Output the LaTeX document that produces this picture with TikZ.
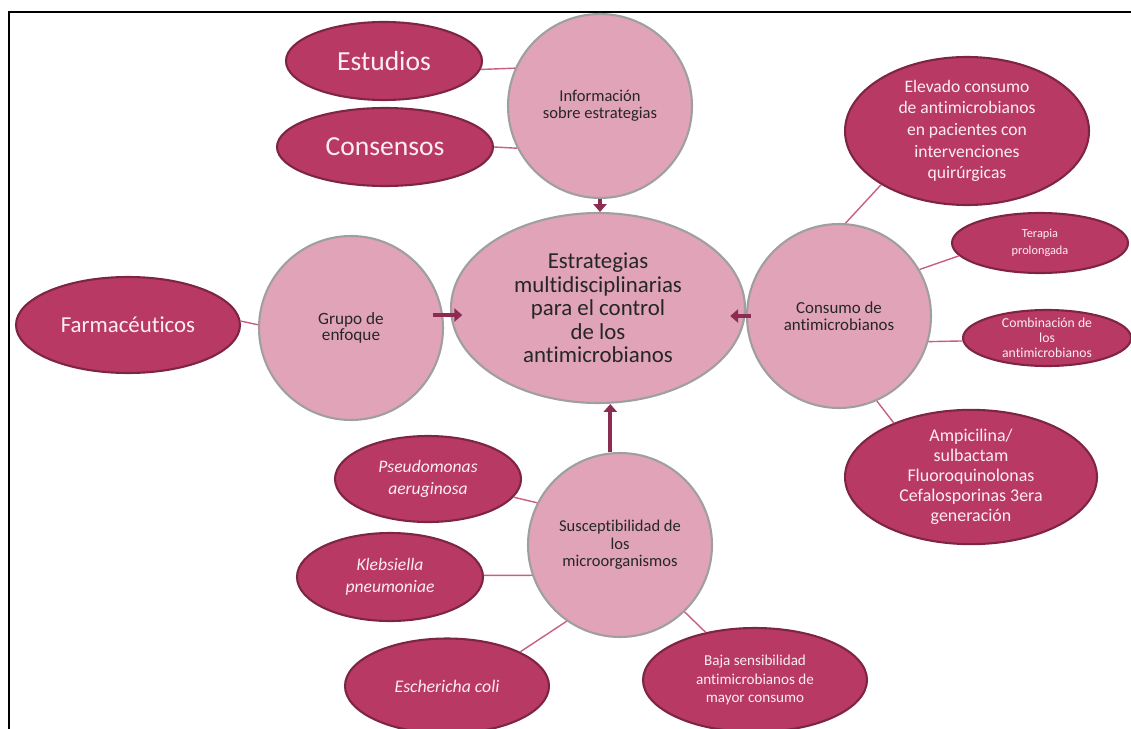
\documentclass[tikz,border=0pt]{standalone}
\usepackage{fontspec}
\setmainfont{Carlito}[Ligatures=NoCommon]
\usepackage{tikz}
\usetikzlibrary{shapes.geometric,arrows.meta}
\definecolor{darkrose}{HTML}{B83A64}
\definecolor{darkrim}{HTML}{7E2444}
\definecolor{lightrose}{HTML}{E0A3B8}
\definecolor{linkrose}{HTML}{C85E86}
\definecolor{arrowrose}{HTML}{8C2C50}
\definecolor{paletext}{HTML}{FCEDF2}

\begin{document}
\begin{tikzpicture}[x=0.02cm,y=-0.02cm,
    hub/.style={circle,minimum size=3.68cm,inner sep=0pt,fill=lightrose,draw=gray!75,line width=1.2pt,text=black!85,align=center},
    leaf/.style={ellipse,inner sep=0pt,fill=darkrose,draw=darkrim,line width=1.2pt,text=paletext,align=center},
    link/.style={linkrose,line width=0.8pt},
    feed/.style={arrowrose,line width=2.3pt,-{Triangle[width=7.5pt,length=4.5pt]}}]
    \useasboundingbox (0,0) rectangle (1131,729);
    % Frame
    \draw[line width=1.7pt] (8,12) -- (1131,12);
    \draw[line width=1.7pt] (9,12) -- (9,729);

    % Centre
    \node[hub,ellipse,minimum width=5.88cm,minimum height=3.8cm,font=\fontsize{13}{13.4}\selectfont] (strat) at (598,308)
        {Estrategias\\multidisciplinarias\\para el control\\de los\\antimicrobianos};

    % Top
    \node[hub,font=\fontsize{9.4}{9.6}\selectfont] (info) at (600,106) {Información\\sobre estrategias};
    \node[leaf,minimum width=3.92cm,minimum height=1.56cm,font=\fontsize{15.7}{16}\selectfont] (est) at (384,61) {Estudios};
    \node[leaf,minimum width=4.32cm,minimum height=1.56cm,font=\fontsize{15.7}{16}\selectfont] (cons) at (385,147) {Consensos};

    % Left
    \node[hub,font=\fontsize{9.8}{9.5}\selectfont] (grupo) at (351,328) {Grupo de\\enfoque};
    \node[leaf,minimum width=4.48cm,minimum height=1.92cm,font=\fontsize{13}{13}\selectfont] (farm) at (128,325) {Farmacéuticos};

    % Right
    \node[hub,font=\fontsize{9.6}{9.5}\selectfont] (consumo) at (839,316) {Consumo de\\antimicrobianos};
    \node[leaf,minimum width=4.88cm,minimum height=2.96cm,font=\fontsize{10}{12.3}\selectfont] (elev) at (967,131)
        {Elevado consumo\\de antimicrobianos\\en pacientes con\\intervenciones\\quirúrgicas};
    \node[leaf,minimum width=3.52cm,minimum height=1.2cm,font=\fontsize{7}{9.5}\selectfont] (terapia) at (1040,243) {Terapia\\prolongada};
    \node[leaf,minimum width=3.36cm,minimum height=1.12cm,font=\fontsize{7.8}{8.5}\selectfont] (comb) at (1047,338) {Combinación de\\los\\antimicrobianos};
    \node[leaf,minimum width=5.04cm,minimum height=2.6cm,font=\fontsize{10.2}{11.3}\selectfont] (ampi) at (971,477)
        {Ampicilina/\\sulbactam\\Fluoroquinolonas\\Cefalosporinas 3era\\generación};

    % Bottom
    \node[hub,font=\fontsize{9.4}{9.9}\selectfont] (susc) at (620,545) {Susceptibilidad de\\los\\microorganismos};
    \node[leaf,minimum width=3.72cm,minimum height=1.72cm,font=\fontsize{10}{12.3}\itshape] (pseudo) at (428,479) {Pseudomonas\\aeruginosa};
    \node[leaf,minimum width=3.72cm,minimum height=1.76cm,font=\fontsize{10}{12.3}\itshape] (kleb) at (390,577) {Klebsiella\\pneumoniae};
    \node[leaf,minimum width=4.08cm,minimum height=1.9cm,font=\fontsize{10.1}{12}\itshape] (esch) at (447,686) {Eschericha coli};
    \node[leaf,minimum width=4.48cm,minimum height=2.08cm,font=\fontsize{8.6}{10.4}\selectfont] (baja) at (755,680)
        {Baja sensibilidad\\antimicrobianos de\\mayor consumo};

    % Links
    \draw[link] (est.-5) -- (info.156);
    \draw[link] (cons.0) -- (info.-153);
    \draw[link] (farm.2) -- (grupo.178);
    \draw[link] (elev.-148) -- (consumo.86);
    \draw[link] (terapia.189) -- (consumo.30);
    \draw[link] (comb.-178.6) -- (consumo.-16);
    \draw[link] (ampi.145) -- (consumo.-66);
    \draw[link] (pseudo.-12) -- (susc.153);
    \draw[link] (kleb.1) -- (susc.199);
    \draw[link] (esch.25.6) -- (susc.-125);
    \draw[link] (baja.136) -- (susc.-46);

    % Arrows into the centre
    \draw[feed] (info.south) -- (info.south |- strat.north);
    \draw[feed,shorten <=-6pt,shorten >=-7pt] (grupo.8) -- (grupo.8 -| strat.west);
    \draw[feed] ([xshift=3pt]consumo.180) -- ([xshift=-9pt]strat.east |- consumo.180);
    \draw[feed] (susc.96) -- (susc.96 |- strat.south);
\end{tikzpicture}
\end{document}
